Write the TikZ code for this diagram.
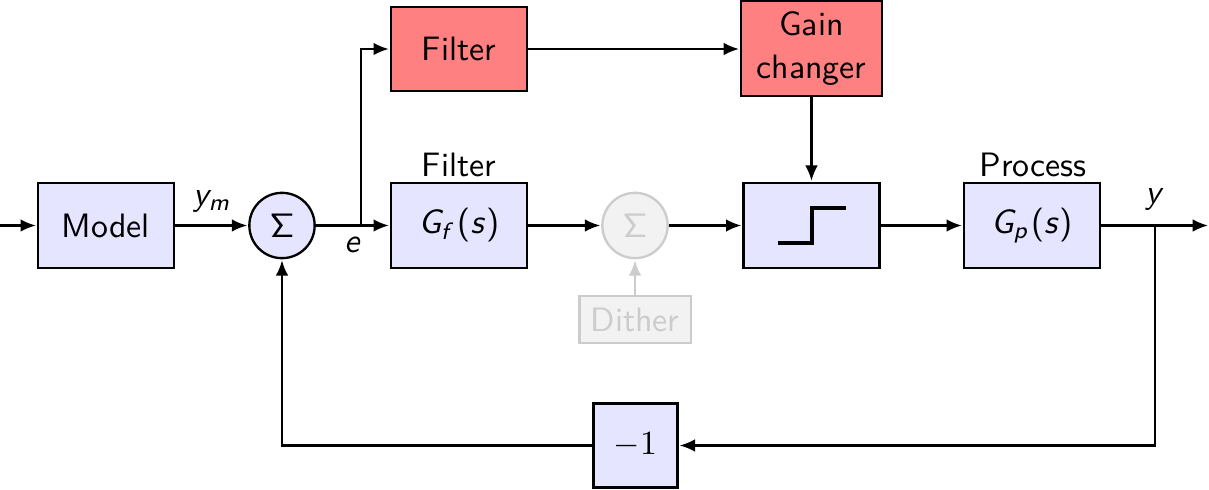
\documentclass[tikz,border=0pt]{standalone}
\usepackage{fix-cm}
\usepackage{amsmath}
\usetikzlibrary{arrows.meta}
\DeclareMathAlphabet{\mathsfx}{OT1}{cmss}{m}{sl}
\tikzset{
  every node/.style={font=\sffamily\fontsize{10.15}{12.9}\selectfont,inner sep=0pt,outer sep=0.35pt},
  blockb/.style={draw=black,line width=0.7pt,fill=blue!10,rectangle,minimum width=40.8pt,minimum height=25.5pt,align=center},
  blockr/.style={draw=black,line width=0.7pt,fill=red!50,rectangle,align=center},
  sumb/.style={draw=black,line width=0.7pt,fill=blue!10,circle,minimum size=19.6pt},
  sumg/.style={draw=gray!40,line width=0.7pt,fill=gray!10,circle,minimum size=19.6pt,text=gray!40},
  blockg/.style={draw=gray!40,line width=0.7pt,fill=gray!10,rectangle,text=gray!40,minimum width=33.4pt,minimum height=14pt},
  conn/.style={line width=0.65pt,-{Latex[length=4.6pt,width=3.8pt]},shorten >=0.3pt},
  connd/.style={conn,draw=gray!40},
  stepsym/.style={line width=1pt}
}
\begin{document}
\begin{tikzpicture}[x=0.3pt,y=-0.3pt]
\useasboundingbox (0,0) rectangle (1209,490);
\node[blockb] (model) at (106,225.5) {Model};
\node[sumb] (sum) at (282,225.5) {$\mathsf{\Sigma}$};
\node[blockb] (gf) at (459,225.5) {$\mathsfx{G}_{\mathsfx{f}}\mkern1mu\text{(}\mathsfx{s}\text{)}$};
\node[sumg] (dsum) at (635,225.5) {$\mathsf{\Sigma}$};
\node[blockg] (dither) at (635,319.5) {\raisebox{-0.7pt}{Dither}};
\node[blockb] (stepb) at (811.5,225.5) {};
\node[blockb] (gp) at (1032,225.5) {$\mathsfx{G}_{\mathsfx{p}}\mkern1mu\text{(}\mathsfx{s}\text{)}$};
\node[blockb,minimum width=25.2pt,minimum height=25.2pt] (neg) at (635.5,445.5) {$-1$};
\node[blockr,minimum width=40.8pt,minimum height=25.2pt] (filt) at (459,49) {Filter};
\node[blockr,minimum width=42.2pt,minimum height=28.4pt] (gain) at (811.5,48.5) {\raisebox{-0.5pt}{Gain}\\\raisebox{-0.5pt}{changer}};
\node (lfilter) at (459,164.5) {Filter};
\node (lprocess) at (1033,164.5) {Process};
\node (lym) at (212,201) {$\mathsfx{y}_{\mathsfx{m}}$};
\node (le) at (353,245) {$\mathsfx{e}$};
\node (ly) at (1155,199) {$\mathsfx{y}$};
\coordinate (in) at (0,225.5);
\coordinate (out) at (1209,225.5);
\coordinate (eb) at (361,225.5);
\coordinate (yb) at (1155,225.5);
\coordinate (s1) at (778,243);
\coordinate (s2) at (812,243);
\coordinate (s3) at (812,208);
\coordinate (s4) at (846,208);
\draw[stepsym] (s1) -- (s2) -- (s3) -- (s4);
\draw[conn] (in) -- (model);
\draw[conn] (model) -- (sum);
\draw[conn] (sum) -- (gf);
\draw[conn] (gf) -- (dsum);
\draw[conn] (dsum) -- (stepb);
\draw[conn] (stepb) -- (gp);
\draw[conn] (gp) -- (out);
\draw[connd] (dither) -- (dsum);
\draw[conn] (eb) |- (filt);
\draw[conn] (filt) -- (filt -| gain.west);
\draw[conn] (gain) -- (stepb);
\draw[conn] (yb) |- (neg);
\draw[conn] (neg) -| (sum);
\end{tikzpicture}
\end{document}
